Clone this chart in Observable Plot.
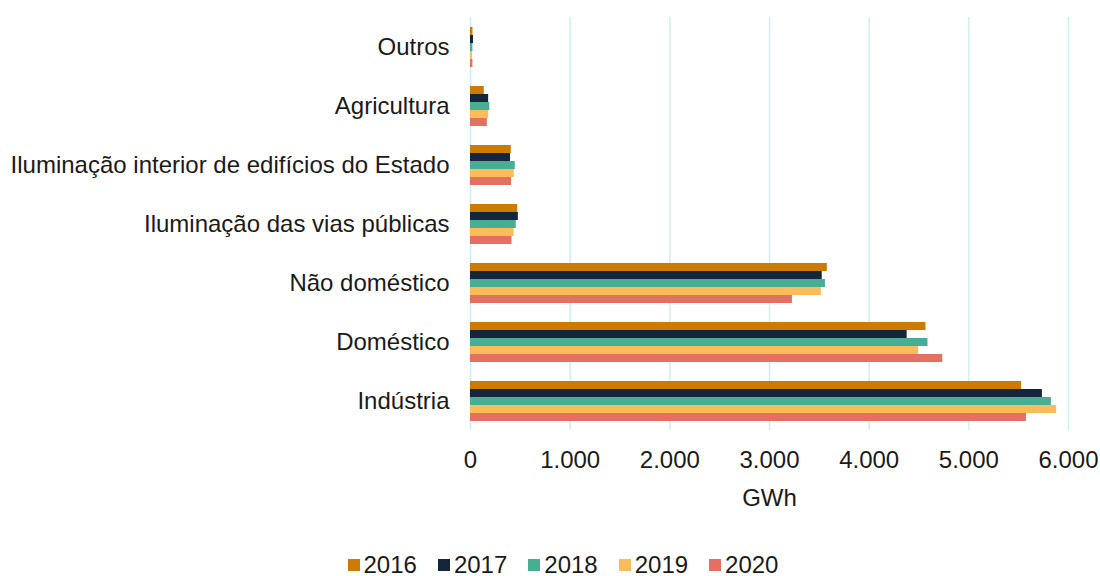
<!DOCTYPE html>
<html>
<head>
<meta charset="utf-8">
<script src="https://cdn.jsdelivr.net/npm/d3@7"></script>
<script src="https://cdn.jsdelivr.net/npm/@observablehq/plot@0.6"></script>
<style>
  html, body { margin: 0; padding: 0; background: #fff; }
  body { width: 1100px; height: 576px; overflow: hidden; font-family: "Liberation Sans", Arial, sans-serif; color: #1a1a1a; }
  #legend { display: flex; justify-content: center; gap: 21px; margin-top: 35px; font-size: 24px; line-height: 20px; height: 20px; padding-left: 26px; }
  #legend .item { display: flex; align-items: center; gap: 4px; }
  #legend .sw { width: 12px; height: 12px; display: inline-block; }
</style>
</head>
<body>
<div id="chart"></div>
<div id="legend"></div>
<script>
const categories = ["Outros", "Agricultura", "Iluminação interior de edifícios do Estado", "Iluminação das vias públicas", "Não doméstico", "Doméstico", "Indústria"];
const years = ["2016", "2017", "2018", "2019", "2020"];
const colors = ["#CC7A00", "#13263B", "#47AD93", "#FDBB5A", "#E37060"];
const v2016 = [25, 138, 409, 473, 3580, 4570, 5529];
const v2017 = [30, 182, 402, 480, 3529, 4381, 5738];
const v2018 = [24, 193, 449, 459, 3561, 4590, 5828];
const v2019 = [20, 182, 439, 436, 3520, 4496, 5881];
const v2020 = [24, 169, 412, 416, 3230, 4738, 5578];
const xTicks = [0, 1000, 2000, 3000, 4000, 5000, 6000];

const series = [v2016, v2017, v2018, v2019, v2020];
const data = [];
categories.forEach((c, i) => {
  years.forEach((y, j) => data.push({category: c, year: y, value: series[j][i]}));
});
const fmt = d => d3.format(",")(d).replace(/,/g, ".");

const chart = Plot.plot({
  width: 1100,
  height: 520,
  marginLeft: 470,
  marginRight: 32,
  marginTop: 14,
  marginBottom: 88,
  style: {fontFamily: "'Liberation Sans', Arial, sans-serif", fontSize: "24px", color: "#1a1a1a", background: "#fff"},
  x: {domain: [0, 6000]},
  fy: {domain: categories, padding: 0},
  y: {domain: years, paddingInner: 0, paddingOuter: 0.9, axis: null},
  color: {domain: years, range: colors},
  marks: [
    Plot.gridX(xTicks, {stroke: "#cdf0f2", strokeOpacity: 1, strokeWidth: 1.5}),
    Plot.barX(data, {fy: "category", y: "year", x: "value", fill: "year"}),
    Plot.axisFy({anchor: "left", tickSize: 0, tickPadding: 21, fontSize: 24, label: null}),
    Plot.axisX(xTicks, {anchor: "bottom", tickSize: 0, tickPadding: 20, fontSize: 24, tickFormat: fmt, label: "GWh", labelAnchor: "center", labelArrow: "none", labelOffset: 75})
  ]
});
document.getElementById("chart").appendChild(chart);

const legend = document.getElementById("legend");
years.forEach((y, j) => {
  const it = document.createElement("div");
  it.className = "item";
  it.innerHTML = `<span class="sw" style="background:${colors[j]}"></span><span>${y}</span>`;
  legend.appendChild(it);
});
</script>
</body>
</html>
